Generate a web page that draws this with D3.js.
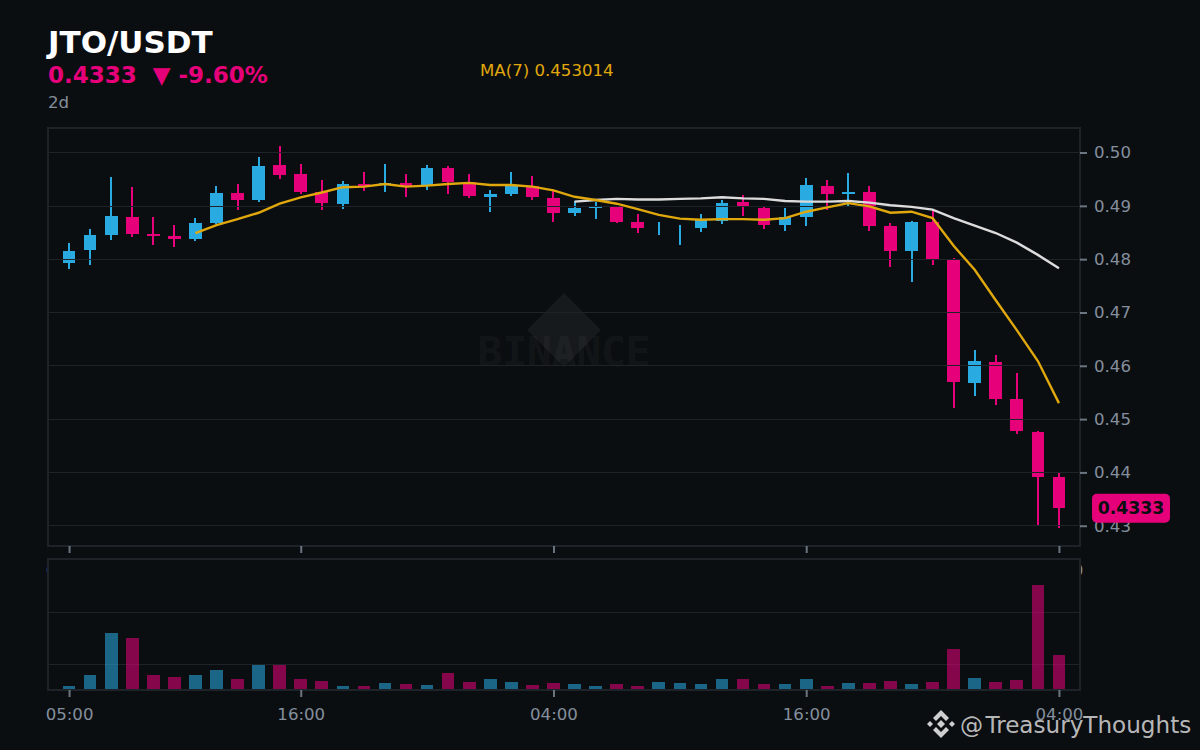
<!DOCTYPE html>
<html>
<head>
<meta charset="utf-8">
<script src="https://cdn.jsdelivr.net/npm/d3@7"></script>
<style>
  html, body { margin: 0; padding: 0; background: #0b0e11; }
  svg { display: block; }
  text { font-family: "DejaVu Sans", sans-serif; }
</style>
</head>
<body>
<script>
// hourly candles, values
var opens  = [.4793,.4818,.4846,.4879,.4848,.4844,.4838,.4868,.4924,.4911,.4977,.4960,.4926,.4904,.4941,.4939,
              .4943,.4938,.4971,.4945,.4917,.4923,.4938,.4915,.4887,.4896,.4898,.4870,.4870,.4864,.4859,.4872,
              .4908,.4896,.4864,.4879,.4938,.4923,.4926,.4863,.4816,.4870,.4799,.4568,.4608,.4538,.4476,.4392];
var highs  = [.4831,.4857,.4954,.4936,.4879,.4864,.4878,.4938,.4941,.4992,.5013,.4979,.4949,.4947,.4964,.4979,
              .4960,.4977,.4975,.4960,.4930,.4964,.4956,.4930,.4909,.4908,.4900,.4885,.4870,.4864,.4885,.4911,
              .4921,.4898,.4896,.4953,.4949,.4962,.4938,.4868,.4872,.4893,.4803,.4630,.4621,.4587,.4478,.4398];
var lows   = [.4782,.4789,.4836,.4842,.4827,.4823,.4834,.4866,.4893,.4908,.4951,.4923,.4893,.4894,.4928,.4926,
              .4917,.4930,.4923,.4915,.4889,.4919,.4911,.4870,.4881,.4876,.4868,.4849,.4846,.4827,.4851,.4866,
              .4881,.4857,.4853,.4863,.4893,.4898,.4853,.4786,.4758,.4789,.4521,.4544,.4527,.4473,.4300,.4296];
var closes = [.4816,.4846,.4881,.4848,.4844,.4838,.4868,.4924,.4911,.4975,.4958,.4926,.4906,.4941,.4938,.4943,
              .4936,.4971,.4945,.4919,.4923,.4939,.4917,.4887,.4896,.4898,.4870,.4859,.4870,.4864,.4874,.4906,
              .4900,.4864,.4879,.4939,.4923,.4926,.4863,.4816,.4870,.4801,.4570,.4609,.4538,.4478,.4392,.4333];
// volume in millions (guess, axis has no labels)
var volumes = [.077,.288,1.096,1.0,.288,.25,.288,.385,.212,.481,.481,.212,.173,.077,.077,.135,
               .115,.096,.327,.154,.212,.154,.096,.135,.115,.077,.115,.077,.154,.135,.115,.212,
               .212,.115,.115,.212,.077,.135,.135,.173,.115,.154,.788,.231,.154,.192,2.019,.673];

var ma7Start = 6;
var ma7 = [.4849,.4864,.4875,.4887,.4904,.4916,.4925,.4935,.4936,.4941,.4936,.4938,.4941,.4943,.4939,.4939,
           .4936,.4929,.4917,.4911,.4904,.4894,.4883,.4876,.4874,.4875,.4875,.4874,.4877,.4889,.4897,.4905,
           .4899,.4887,.4889,.4877,.4825,.4780,.4723,.4667,.4609,.4530];
var ma25Start = 24;
var ma25 = [.4908,.4911,.4913,.4912,.4912,.4913,.4914,.4916,.4914,.4913,.4909,.4908,.4908,.4909,.4906,.4901,
            .4898,.4893,.4877,.4863,.4849,.4831,.4808,.4783];

var priceTicks = [.43,.44,.45,.46,.47,.48,.49,.50];
var timeTicks = [0,11,23,35,47];
var timeLabels = ["05:00","16:00","04:00","16:00","04:00"];
var volumeGrid = [.5,1.5];

var UP = "#29abe2", DOWN = "#e6007a", GRID = "#1e2329", MUTED = "#848e9c", BG = "#0b0e11";

var width = 1200, height = 750;
var left = 48, right = 1080;
var mainTop = 128, mainBottom = 546;
var volTop = 559, volBottom = 690;

var svg = d3.select("body").append("svg")
            .attr("width",width)
            .attr("height",height);

svg.append("rect").attr("width",width).attr("height",height).attr("fill",BG);

var x = d3.scaleLinear().domain([-1,48]).range([left,right]);
var y = d3.scaleLinear().domain([.4262,.5046]).range([mainBottom,mainTop]);
var yVol = d3.scaleLinear().domain([0,2.5]).range([volBottom+.3,volTop+1]);
var bodyW = (x(1)-x(0))*.6;

function colour(i){ return closes[i]>=opens[i] ? UP : DOWN; }

// watermark
svg.append("path")
   .attr("d","M564,293L601,330L564,367L527,330Z")
   .attr("fill","#fff").attr("fill-opacity",.05);
svg.append("text")
   .attr("x",564).attr("y",366)
   .attr("text-anchor","middle")
   .style("font-family","'DejaVu Sans Mono'")
   .style("font-weight","bold")
   .style("font-size","41px")
   .attr("fill","#fff").attr("fill-opacity",.055)
   .text("BINANCE");

// candles
var candles = svg.append("g").attr("shape-rendering","crispEdges");
candles.selectAll(".wick").data(d3.range(opens.length)).enter().append("rect")
       .attr("class","wick")
       .attr("x",function(i){ return x(i)-1; })
       .attr("width",2)
       .attr("y",function(i){ return y(highs[i]); })
       .attr("height",function(i){ return y(lows[i])-y(highs[i]); })
       .attr("fill",colour);
candles.selectAll(".body").data(d3.range(opens.length)).enter().append("rect")
       .attr("class","body")
       .attr("x",function(i){ return x(i)-bodyW/2; })
       .attr("width",bodyW)
       .attr("y",function(i){ return y(Math.max(opens[i],closes[i])); })
       .attr("height",function(i){ return Math.abs(y(opens[i])-y(closes[i])); })
       .attr("fill",colour);

// grid sits on top of the candles
svg.append("g").selectAll("line").data(priceTicks).enter().append("line")
   .attr("x1",left).attr("x2",right)
   .attr("y1",function(d){ return Math.round(y(d)-.3)+.5; })
   .attr("y2",function(d){ return Math.round(y(d)-.3)+.5; })
   .attr("stroke",GRID);

// moving averages
function drawMa(values,start,col){
    var line = d3.line()
                 .x(function(d,i){ return x(i+start); })
                 .y(function(d){ return y(d); });
    svg.append("path")
       .attr("d",line(values))
       .attr("fill","none")
       .attr("stroke",col)
       .attr("stroke-width",2.4);
}
drawMa(ma25,ma25Start,"#dcdcdc");
drawMa(ma7,ma7Start,"#e0a80d");

// main frame
svg.append("rect")
   .attr("x",left).attr("y",mainTop)
   .attr("width",right-left).attr("height",mainBottom-mainTop)
   .attr("fill","none").attr("stroke",GRID).attr("stroke-width",2);

function styleAxis(g){
    g.select(".domain").remove();
    g.selectAll(".tick line").attr("stroke",MUTED).attr("stroke-width",2).attr("stroke-opacity",.8);
    g.selectAll(".tick text").attr("fill",MUTED).style("font-size","16.6px")
     .style("font-family","'DejaVu Sans'");
}

var yAxis = d3.axisRight(y).tickValues(priceTicks).tickFormat(d3.format(".2f")).tickSize(7).tickPadding(7);
svg.append("g").attr("transform","translate("+right+",0)").call(yAxis).call(styleAxis);

var timeAxis = d3.axisBottom(x).tickValues(timeTicks)
                 .tickFormat(function(d,i){ return timeLabels[i]; })
                 .tickSize(7).tickPadding(11);
svg.append("g").attr("transform","translate(0,"+mainBottom+")").call(timeAxis).call(styleAxis);

// volume panel covers the labels of the axis above it
svg.append("rect")
   .attr("x",left).attr("y",volTop)
   .attr("width",right-left).attr("height",volBottom-volTop)
   .attr("fill",BG);
svg.append("g").selectAll("line").data(volumeGrid).enter().append("line")
   .attr("x1",left).attr("x2",right)
   .attr("y1",function(d){ return Math.round(yVol(d))+.5; })
   .attr("y2",function(d){ return Math.round(yVol(d))+.5; })
   .attr("stroke",GRID);
svg.append("g").attr("shape-rendering","crispEdges")
   .selectAll("rect").data(volumes).enter().append("rect")
   .attr("x",function(d,i){ return x(i)-bodyW/2; })
   .attr("width",bodyW)
   .attr("y",function(d){ return yVol(d); })
   .attr("height",function(d){ return yVol(0)-yVol(d); })
   .attr("fill",function(d,i){ return colour(i); })
   .attr("fill-opacity",.56);
svg.append("rect")
   .attr("x",left).attr("y",volTop)
   .attr("width",right-left).attr("height",volBottom-volTop)
   .attr("fill","none").attr("stroke",GRID).attr("stroke-width",2);
svg.append("g").attr("transform","translate(0,"+volBottom+")").call(timeAxis).call(styleAxis);

// header
svg.append("text").attr("x",48).attr("y",53)
   .style("font-size","31px").style("font-weight","bold").attr("fill","#fff")
   .text("JTO/USDT");
svg.append("text").attr("x",48).attr("y",83)
   .style("font-size","23px").style("font-weight","bold").attr("fill",DOWN)
   .style("white-space","pre")
   .text("0.4333  \u25BC -9.60%");
svg.append("text").attr("x",48).attr("y",108)
   .style("font-size","16.6px").attr("fill",MUTED)
   .text("2d");
svg.append("text").attr("x",480).attr("y",76)
   .style("font-size","16.6px").attr("fill","#e0a80d")
   .text("MA(7) 0.453014");

// last price tag
var lastClose = closes[closes.length-1];
svg.append("rect")
   .attr("x",1092).attr("y",y(lastClose)-14.5)
   .attr("width",78).attr("height",29).attr("rx",5)
   .attr("fill",DOWN);
svg.append("text")
   .attr("x",1131).attr("y",y(lastClose)+6)
   .attr("text-anchor","middle")
   .style("font-size","17.3px").style("font-weight","bold").attr("fill",BG)
   .text(d3.format(".4f")(lastClose));

// credit, bottom right
var logo = svg.append("g").attr("transform","translate(941,724)").attr("fill","#cfcfcf");
logo.append("path").attr("d","M0,-4L4,0L0,4L-4,0Z");
logo.append("path").attr("d","M-14,0L-11,-3L-8,0L-11,3Z");
logo.append("path").attr("d","M14,0L11,-3L8,0L11,3Z");
logo.append("path").attr("d","M0,-14L8,-6L5,-3L0,-8L-5,-3L-8,-6Z");
logo.append("path").attr("d","M0,14L8,6L5,3L0,8L-5,3L-8,6Z");
svg.append("text").attr("x",960).attr("y",733)
   .style("font-size","23.1px").style("word-spacing","-5px")
   .attr("fill","#cfcfcf").attr("fill-opacity",.9)
   .text("@ TreasuryThoughts");
</script>
</body>
</html>
